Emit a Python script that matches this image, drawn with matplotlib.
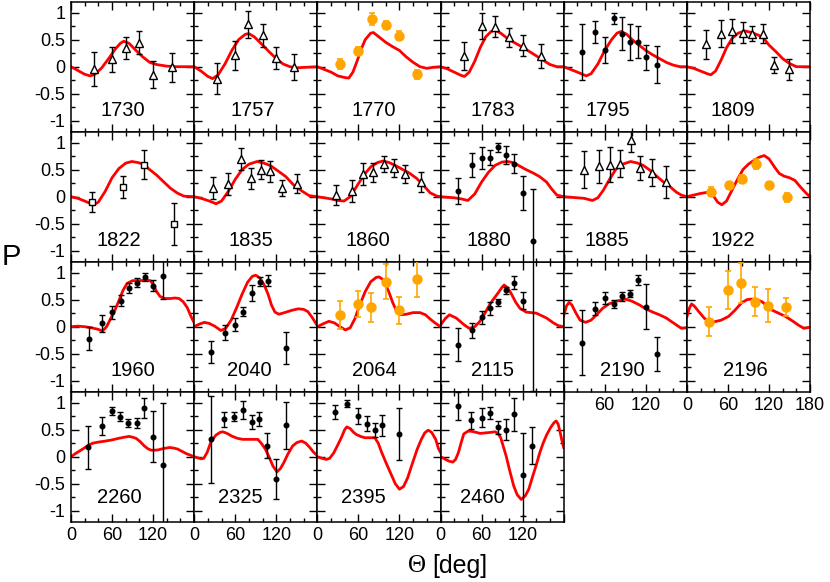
import matplotlib
matplotlib.use('Agg')
import matplotlib.pyplot as plt
from matplotlib.ticker import MultipleLocator, FixedLocator

plt.rcParams['font.family'] = ['Liberation Sans', 'DejaVu Sans']

# ---- data: angle [deg], P, error, model curve ----
x_1730 = [34, 60, 80, 100, 120, 147]
y_1730 = [-0.04, 0.14, 0.35, 0.44, -0.15, -0.01]
e_1730 = [0.32, 0.23, 0.2, 0.21, 0.25, 0.27]
cx_1730 = [0, 10, 20, 28, 35, 45, 55, 65, 72, 77, 85, 95, 105, 115, 125, 140, 155, 180]
cy_1730 = [0, -0.07, -0.14, -0.17, -0.14, -0.02, 0.15, 0.33, 0.43, 0.47, 0.43, 0.3, 0.18, 0.08, 0.04, 0.01, 0, 0]

x_1757 = [33, 60, 79, 100, 119, 146]
y_1757 = [-0.22, 0.21, 0.78, 0.58, 0.16, -0.01]
e_1757 = [0.28, 0.27, 0.25, 0.21, 0.2, 0.24]
cx_1757 = [0, 10, 20, 27, 35, 45, 55, 65, 75, 80, 88, 100, 110, 120, 130, 140, 150, 165, 180]
cy_1757 = [0, -0.08, -0.18, -0.22, -0.15, 0.05, 0.3, 0.5, 0.6, 0.61, 0.55, 0.4, 0.27, 0.15, 0.05, 0.0, -0.02, -0.01, 0]

x_1770 = [33, 60, 80, 100, 119, 146]
y_1770 = [0.05, 0.29, 0.88, 0.77, 0.57, -0.14]
e_1770 = [0.09, 0.08, 0.11, 0.08, 0.08, 0.08]
cx_1770 = [0, 10, 20, 30, 40, 46, 52, 58, 64, 70, 78, 82, 90, 100, 110, 120, 130, 140, 150, 160, 170, 180]
cy_1770 = [0, -0.05, -0.1, -0.17, -0.2, -0.21, -0.1, 0.1, 0.32, 0.5, 0.62, 0.63, 0.55, 0.45, 0.37, 0.3, 0.18, 0.08, 0.0, -0.03, -0.01, 0]

x_1783 = [34, 60, 80, 100, 120, 147]
y_1783 = [0.2, 0.76, 0.74, 0.54, 0.39, 0.19]
e_1783 = [0.26, 0.24, 0.2, 0.18, 0.19, 0.22]
cx_1783 = [0, 10, 20, 30, 35, 42, 50, 58, 66, 74, 80, 88, 100, 110, 120, 130, 140, 150, 160, 170, 180]
cy_1783 = [0, -0.04, -0.1, -0.16, -0.18, -0.1, 0.1, 0.35, 0.55, 0.65, 0.67, 0.62, 0.5, 0.43, 0.36, 0.28, 0.2, 0.12, 0.04, 0.0, 0]

x_1795 = [27, 46, 61, 73, 85, 97, 109, 121, 136]
y_1795 = [0.27, 0.64, 0.31, 0.89, 0.61, 0.46, 0.46, 0.17, 0.04]
e_1795 = [0.52, 0.2, 0.24, 0.11, 0.3, 0.33, 0.3, 0.23, 0.34]
cx_1795 = [0, 10, 20, 33, 40, 50, 60, 70, 78, 84, 92, 100, 110, 120, 130, 140, 150, 160, 170, 180]
cy_1795 = [0, -0.05, -0.1, -0.17, -0.13, 0.05, 0.3, 0.5, 0.62, 0.65, 0.6, 0.5, 0.4, 0.3, 0.22, 0.15, 0.08, 0.03, 0.0, 0]

x_1809 = [28, 50, 66, 82, 95, 111, 128, 150]
y_1809 = [0.41, 0.61, 0.66, 0.63, 0.61, 0.61, 0.03, -0.05]
e_1809 = [0.27, 0.25, 0.22, 0.19, 0.14, 0.17, 0.15, 0.2]
cx_1809 = [0, 10, 20, 30, 35, 42, 50, 58, 66, 75, 85, 95, 105, 112, 120, 130, 140, 150, 160, 180]
cy_1809 = [0, -0.03, -0.08, -0.13, -0.15, -0.08, 0.12, 0.35, 0.52, 0.62, 0.66, 0.63, 0.58, 0.53, 0.4, 0.28, 0.15, 0.06, 0.0, 0]

x_1822 = [31, 76, 106, 151]
y_1822 = [-0.1, 0.18, 0.59, -0.5]
e_1822 = [0.18, 0.2, 0.27, 0.39]
cx_1822 = [0, 10, 20, 33, 40, 50, 60, 70, 80, 89, 98, 106, 115, 125, 135, 145, 155, 165, 180]
cy_1822 = [0, -0.03, -0.08, -0.15, -0.1, 0.1, 0.35, 0.52, 0.62, 0.65, 0.63, 0.6, 0.5, 0.4, 0.28, 0.16, 0.07, 0.01, 0]

x_1835 = [28, 50, 68, 83, 97, 111, 129, 150]
y_1835 = [0.16, 0.24, 0.69, 0.34, 0.5, 0.47, 0.16, 0.24]
e_1835 = [0.2, 0.2, 0.2, 0.19, 0.18, 0.19, 0.15, 0.18]
cx_1835 = [0, 10, 20, 32, 40, 50, 60, 70, 80, 92, 102, 112, 122, 134, 145, 158, 168, 180]
cy_1835 = [0, -0.03, -0.07, -0.13, -0.08, 0.1, 0.32, 0.5, 0.6, 0.65, 0.62, 0.57, 0.48, 0.37, 0.22, 0.1, 0.02, 0]

x_1860 = [28, 50, 67, 82, 97, 112, 128, 151]
y_1860 = [0.03, 0.1, 0.42, 0.45, 0.6, 0.53, 0.42, 0.27]
e_1860 = [0.18, 0.2, 0.2, 0.17, 0.15, 0.16, 0.16, 0.19]
cx_1860 = [0, 10, 20, 30, 39, 48, 58, 68, 78, 88, 96, 105, 115, 125, 134, 145, 155, 165, 175, 180]
cy_1860 = [0, -0.02, -0.04, -0.07, -0.08, 0.0, 0.2, 0.4, 0.55, 0.63, 0.66, 0.63, 0.57, 0.5, 0.44, 0.34, 0.21, 0.07, 0.01, 0]

x_1880 = [26, 46, 60, 73, 84, 96, 108, 120, 135]
y_1880 = [0.11, 0.58, 0.72, 0.72, 0.91, 0.77, 0.61, 0.07, -0.82]
e_1880 = [0.24, 0.22, 0.2, 0.14, 0.09, 0.16, 0.17, 0.31, 0.96]
elo_1880 = [0.24, 0.22, 0.2, 0.14, 0.09, 0.16, 0.17, 0.31, 2.76]
cx_1880 = [0, 10, 20, 30, 40, 50, 60, 70, 80, 90, 98, 106, 115, 125, 135, 145, 155, 162, 170, 180]
cy_1880 = [0, -0.01, -0.02, -0.04, -0.07, 0.05, 0.27, 0.45, 0.58, 0.64, 0.65, 0.63, 0.57, 0.5, 0.44, 0.37, 0.27, 0.15, 0.03, 0]

x_1885 = [29, 52, 68, 83, 98, 112, 129, 150]
y_1885 = [0.5, 0.56, 0.59, 0.61, 1.05, 0.53, 0.44, 0.27]
e_1885 = [0.34, 0.31, 0.32, 0.25, 0.22, 0.23, 0.25, 0.3]
cx_1885 = [0, 10, 20, 30, 42, 50, 58, 67, 76, 86, 98, 108, 116, 125, 134, 145, 155, 165, 172, 180]
cy_1885 = [0, -0.01, -0.02, -0.03, -0.07, -0.02, 0.12, 0.32, 0.5, 0.6, 0.65, 0.62, 0.58, 0.5, 0.4, 0.28, 0.19, 0.08, 0.03, 0]

x_1922 = [35, 61, 81, 101, 120, 147]
y_1922 = [0.09, 0.21, 0.33, 0.61, 0.22, -0.01]
e_1922 = [0.08, 0.07, 0.07, 0.09, 0.06, 0.08]
cx_1922 = [0, 10, 20, 30, 38, 45, 51, 58, 66, 74, 82, 90, 98, 106, 113, 120, 128, 135, 142, 150, 158, 166, 174, 180]
cy_1922 = [0, 0.03, 0.06, 0.08, 0.03, -0.1, -0.15, -0.08, 0.12, 0.32, 0.5, 0.6, 0.67, 0.73, 0.76, 0.7, 0.55, 0.43, 0.38, 0.35, 0.3, 0.18, 0.07, 0]

x_1960 = [26, 46, 60, 73, 85, 97, 108, 120, 135]
y_1960 = [-0.22, 0.06, 0.27, 0.48, 0.72, 0.81, 0.92, 0.76, 0.94]
e_1960 = [0.21, 0.16, 0.12, 0.1, 0.09, 0.08, 0.07, 0.11, 0.42]
cx_1960 = [0, 10, 20, 30, 40, 46, 52, 58, 64, 70, 76, 82, 90, 100, 110, 116, 120, 125, 130, 137, 145, 152, 158, 164, 170, 175, 180]
cy_1960 = [0, 0.01, 0.0, -0.02, -0.05, -0.08, 0.0, 0.15, 0.3, 0.48, 0.67, 0.8, 0.85, 0.85, 0.86, 0.85, 0.78, 0.65, 0.56, 0.52, 0.52, 0.53, 0.52, 0.46, 0.35, 0.2, 0.07]

x_2040 = [25, 45, 60, 72, 84, 96, 108, 134]
y_2040 = [-0.47, -0.11, 0.04, 0.28, 0.62, 0.83, 0.85, -0.39]
e_2040 = [0.2, 0.14, 0.12, 0.09, 0.15, 0.08, 0.1, 0.3]
cx_2040 = [0, 8, 15, 22, 30, 39, 46, 54, 62, 70, 78, 85, 90, 96, 102, 108, 113, 118, 124, 132, 142, 152, 160, 166, 172, 176, 180]
cy_2040 = [0, 0.05, 0.08, 0.06, 0.01, -0.07, -0.03, 0.12, 0.35, 0.6, 0.82, 0.93, 0.95, 0.9, 0.78, 0.6, 0.4, 0.27, 0.23, 0.26, 0.3, 0.33, 0.32, 0.28, 0.18, 0.1, 0.02]

x_2064 = [33, 60, 79, 100, 119, 146]
y_2064 = [0.21, 0.41, 0.36, 0.83, 0.3, 0.88]
e_2064 = [0.26, 0.24, 0.27, 0.32, 0.25, 0.34]
cx_2064 = [0, 8, 17, 25, 33, 41, 48, 55, 62, 70, 78, 86, 90, 96, 104, 110, 116, 122, 130, 140, 150, 158, 165, 172, 180]
cy_2064 = [0, 0.05, 0.1, 0.07, 0.0, -0.06, -0.02, 0.15, 0.4, 0.65, 0.83, 0.91, 0.92, 0.87, 0.66, 0.45, 0.28, 0.22, 0.23, 0.26, 0.26, 0.22, 0.14, 0.07, 0.0]

x_2115 = [26, 46, 60, 73, 84, 96, 108, 120]
y_2115 = [-0.33, -0.07, 0.17, 0.34, 0.45, 0.67, 0.81, 0.48]
e_2115 = [0.3, 0.13, 0.12, 0.12, 0.07, 0.07, 0.12, 0.16]
cx_2115 = [0, 7, 13, 23, 35, 42, 50, 57, 65, 72, 78, 84, 90, 93, 98, 103, 110, 116, 125, 140, 155, 165, 172, 180]
cy_2115 = [0.03, 0.15, 0.22, 0.16, 0.03, -0.03, 0.0, 0.09, 0.25, 0.41, 0.52, 0.62, 0.73, 0.77, 0.72, 0.62, 0.45, 0.34, 0.27, 0.25, 0.16, 0.07, 0.02, 0.0]

x_2190 = [27, 46, 61, 73, 85, 97, 109, 121, 136]
y_2190 = [-0.3, 0.33, 0.53, 0.42, 0.56, 0.61, 0.86, 0.37, -0.5]
e_2190 = [0.6, 0.12, 0.11, 0.08, 0.08, 0.07, 0.09, 0.41, 0.31]
cx_2190 = [0, 4, 8, 12, 18, 24, 32, 40, 48, 57, 66, 77, 90, 100, 111, 120, 130, 140, 150, 158, 165, 172, 180]
cy_2190 = [0.2, 0.38, 0.45, 0.4, 0.25, 0.12, 0.08, 0.12, 0.22, 0.34, 0.42, 0.47, 0.51, 0.47, 0.4, 0.33, 0.27, 0.22, 0.16, 0.09, 0.03, -0.03, -0.02]

x_2196 = [33, 60, 79, 99, 118, 145]
y_2196 = [0.09, 0.67, 0.81, 0.46, 0.39, 0.36]
e_2196 = [0.27, 0.35, 0.37, 0.27, 0.3, 0.17]
cx_2196 = [0, 4, 7, 11, 18, 26, 34, 40, 50, 61, 70, 80, 88, 95, 102, 110, 117, 124, 134, 144, 154, 163, 171, 180]
cy_2196 = [0.18, 0.35, 0.42, 0.38, 0.27, 0.15, 0.1, 0.09, 0.12, 0.19, 0.3, 0.44, 0.5, 0.51, 0.5, 0.46, 0.39, 0.31, 0.25, 0.19, 0.11, 0.03, -0.03, -0.01]

x_2260 = [25, 45, 60, 72, 84, 96, 107, 120, 134]
y_2260 = [0.17, 0.57, 0.84, 0.74, 0.62, 0.62, 0.9, 0.37, -0.16]
e_2260 = [0.4, 0.17, 0.07, 0.08, 0.08, 0.09, 0.19, 0.47, 1.16]
cx_2260 = [0, 8, 17, 25, 32, 40, 51, 60, 70, 78, 85, 90, 95, 101, 107, 112, 117, 122, 127, 135, 144, 150, 156, 162, 168, 174, 180]
cy_2260 = [0, 0.07, 0.14, 0.21, 0.25, 0.27, 0.29, 0.31, 0.34, 0.36, 0.375, 0.36, 0.34, 0.28, 0.2, 0.15, 0.12, 0.12, 0.125, 0.15, 0.17, 0.16, 0.14, 0.1, 0.06, 0.03, 0]

x_2325 = [24, 44, 58, 71, 84, 95, 107, 119, 134]
y_2325 = [0.32, 0.69, 0.74, 0.86, 0.64, 0.7, 0.2, -0.42, 0.58]
e_2325 = [0.8, 0.14, 0.08, 0.17, 0.13, 0.13, 0.23, 0.37, 0.43]
cx_2325 = [0, 5, 10, 14, 19, 25, 32, 38, 42, 48, 55, 63, 71, 82, 93, 98, 104, 110, 115, 121, 126, 131, 137, 144, 150, 157, 163, 169, 174, 180]
cy_2325 = [0, -0.02, -0.04, -0.03, 0.08, 0.29, 0.4, 0.45, 0.46, 0.43, 0.38, 0.34, 0.32, 0.32, 0.32, 0.25, 0.14, -0.02, -0.17, -0.28, -0.22, -0.11, 0.05, 0.2, 0.26, 0.29, 0.25, 0.17, 0.09, 0.02]

x_2395 = [26, 44, 60, 72, 84, 95, 120]
y_2395 = [0.83, 0.98, 0.75, 0.61, 0.5, 0.58, 0.42]
e_2395 = [0.13, 0.07, 0.15, 0.14, 0.13, 0.19, 0.48]
cx_2395 = [0, 7, 13, 18, 24, 30, 35, 40, 43, 48, 53, 57, 64, 70, 78, 84, 89, 94, 100, 108, 114, 120, 126, 132, 139, 146, 152, 157, 162, 167, 173, 177, 180]
cy_2395 = [0, -0.03, -0.05, -0.03, 0.07, 0.22, 0.35, 0.5, 0.55, 0.52, 0.45, 0.41, 0.37, 0.35, 0.35, 0.35, 0.25, 0.08, -0.1, -0.33, -0.5, -0.6, -0.55, -0.39, -0.12, 0.14, 0.32, 0.44, 0.49, 0.45, 0.32, 0.15, 0.08]

x_2460 = [26, 45, 60, 73, 84, 96, 108, 120, 134]
y_2460 = [0.94, 0.67, 0.72, 0.81, 0.54, 0.5, 0.78, -0.33, 0.2]
e_2460 = [0.26, 0.16, 0.18, 0.11, 0.12, 0.2, 0.31, 0.77, 0.34]
cx_2460 = [0, 6, 12, 18, 22, 26, 30, 34, 40, 45, 52, 58, 66, 74, 80, 84, 88, 92, 96, 101, 107, 112, 118, 124, 129, 135, 140, 145, 150, 155, 161, 166, 169, 172, 175, 178, 180]
cy_2460 = [0, -0.04, -0.08, -0.1, -0.05, 0.07, 0.25, 0.42, 0.47, 0.47, 0.45, 0.43, 0.44, 0.45, 0.46, 0.43, 0.35, 0.18, 0.01, -0.25, -0.54, -0.7, -0.79, -0.72, -0.6, -0.35, -0.15, 0.07, 0.25, 0.4, 0.54, 0.63, 0.66, 0.6, 0.44, 0.27, 0.17]

energies = [1730, 1757, 1770, 1783, 1795, 1809,
            1822, 1835, 1860, 1880, 1885, 1922,
            1960, 2040, 2064, 2115, 2190, 2196,
            2260, 2325, 2395, 2460]
kinds = ['tri', 'tri', 'orange', 'tri', 'dot', 'tri',
         'sq', 'tri', 'tri', 'dot', 'tri', 'orange',
         'dot', 'dot', 'orange', 'dot', 'dot', 'orange',
         'dot', 'dot', 'dot', 'dot']

panels = [
    (x_1730, y_1730, e_1730, cx_1730, cy_1730), (x_1757, y_1757, e_1757, cx_1757, cy_1757),
    (x_1770, y_1770, e_1770, cx_1770, cy_1770), (x_1783, y_1783, e_1783, cx_1783, cy_1783),
    (x_1795, y_1795, e_1795, cx_1795, cy_1795), (x_1809, y_1809, e_1809, cx_1809, cy_1809),
    (x_1822, y_1822, e_1822, cx_1822, cy_1822), (x_1835, y_1835, e_1835, cx_1835, cy_1835),
    (x_1860, y_1860, e_1860, cx_1860, cy_1860), (x_1880, y_1880, e_1880, cx_1880, cy_1880),
    (x_1885, y_1885, e_1885, cx_1885, cy_1885), (x_1922, y_1922, e_1922, cx_1922, cy_1922),
    (x_1960, y_1960, e_1960, cx_1960, cy_1960), (x_2040, y_2040, e_2040, cx_2040, cy_2040),
    (x_2064, y_2064, e_2064, cx_2064, cy_2064), (x_2115, y_2115, e_2115, cx_2115, cy_2115),
    (x_2190, y_2190, e_2190, cx_2190, cy_2190), (x_2196, y_2196, e_2196, cx_2196, cy_2196),
    (x_2260, y_2260, e_2260, cx_2260, cy_2260), (x_2325, y_2325, e_2325, cx_2325, cy_2325),
    (x_2395, y_2395, e_2395, cx_2395, cy_2395), (x_2460, y_2460, e_2460, cx_2460, cy_2460),
]

# where the energy label sits inside each panel (x in deg)
label_x = [76, 85, 83, 77, 65, 67,
           70, 83, 74, 70, 63, 67,
           90, 81, 83, 76, 85, 85,
           70, 68, 68, 61]

fig = plt.figure(figsize=(8.3, 5.82), dpi=100)
axes = fig.subplots(4, 6, gridspec_kw=dict(left=71/830, right=810/830, top=1-1.7/582,
                                            bottom=1-521.7/582, hspace=0, wspace=0))

for i in range(22, 24):
    axes.flat[i].remove()

for i, energy in enumerate(energies):
    r, c = divmod(i, 6)
    ax = axes[r, c]
    x, y, err, cx, cy = panels[i]
    kind = kinds[i]

    ax.plot(cx, cy, color='red', lw=2, zorder=2)

    if energy == 1880:
        yerr = [elo_1880, err]
        ax.set_zorder(5)
        clip = False
    else:
        yerr = err
        clip = True

    if kind == 'orange':
        eb = ax.errorbar(x, y, yerr=yerr, fmt='o', color='orange', ms=6.5, capsize=2,
                         elinewidth=1.2, capthick=1.2, zorder=3)
    elif kind == 'dot':
        eb = ax.errorbar(x, y, yerr=yerr, fmt='o', color='black', ms=3.3, capsize=2,
                         elinewidth=1, capthick=1, zorder=3)
    elif kind == 'tri':
        eb = ax.errorbar(x, y, yerr=yerr, fmt='^', color='black', mfc='white', mec='black',
                         mew=1, ms=5.8, capsize=2, elinewidth=1, capthick=1, zorder=3)
    else:
        eb = ax.errorbar(x, y, yerr=yerr, fmt='s', color='black', mfc='white', mec='black',
                         mew=1, ms=4.5, capsize=2, elinewidth=1, capthick=1, zorder=3)
    if not clip:
        for art in eb.lines[1] + eb.lines[2]:
            art.set_clip_on(False)

    ax.text(label_x[i], -0.8 if r < 3 else -0.75, str(energy), fontsize=14.5,
            ha='center', va='center')

    ax.set_xlim(0, 180)
    ax.set_ylim(-1.2, 1.2)
    ax.xaxis.set_major_locator(FixedLocator([0, 60, 120, 180]))
    ax.xaxis.set_minor_locator(MultipleLocator(20))
    ax.yaxis.set_major_locator(FixedLocator([-1, -0.5, 0, 0.5, 1]))
    ax.yaxis.set_minor_locator(MultipleLocator(0.25))
    ax.tick_params(which='both', direction='in', top=True, right=True, width=1)
    ax.tick_params(which='major', length=6, labelsize=13, pad=4)
    ax.tick_params(which='minor', length=3)
    for s in ax.spines.values():
        s.set_linewidth(1.1)

    if c == 0:
        ax.set_yticklabels(['-1', '-0.5', '0', '0.5', '1'])
    else:
        ax.tick_params(labelleft=False)

    if r == 3:
        ax.set_xticklabels(['0', '60', '120', ''])
    elif r == 2 and c == 4:
        ax.set_xticklabels(['', '60', '120', ''])
    elif r == 2 and c == 5:
        ax.set_xticklabels(['0', '60', '120', '180'])
    else:
        ax.tick_params(labelbottom=False)

fig.text(11.7/830, 1-257/582, 'P', fontsize=21, ha='center', va='center')
fig.text(417/830, 1-566.5/582, 'Θ', fontsize=18, ha='center', va='center',
         family=['Liberation Serif', 'DejaVu Serif'])
fig.text(460/830, 1-566.5/582, '[deg]', fontsize=18, ha='center', va='center')

fig.savefig('out.png', dpi=100)
